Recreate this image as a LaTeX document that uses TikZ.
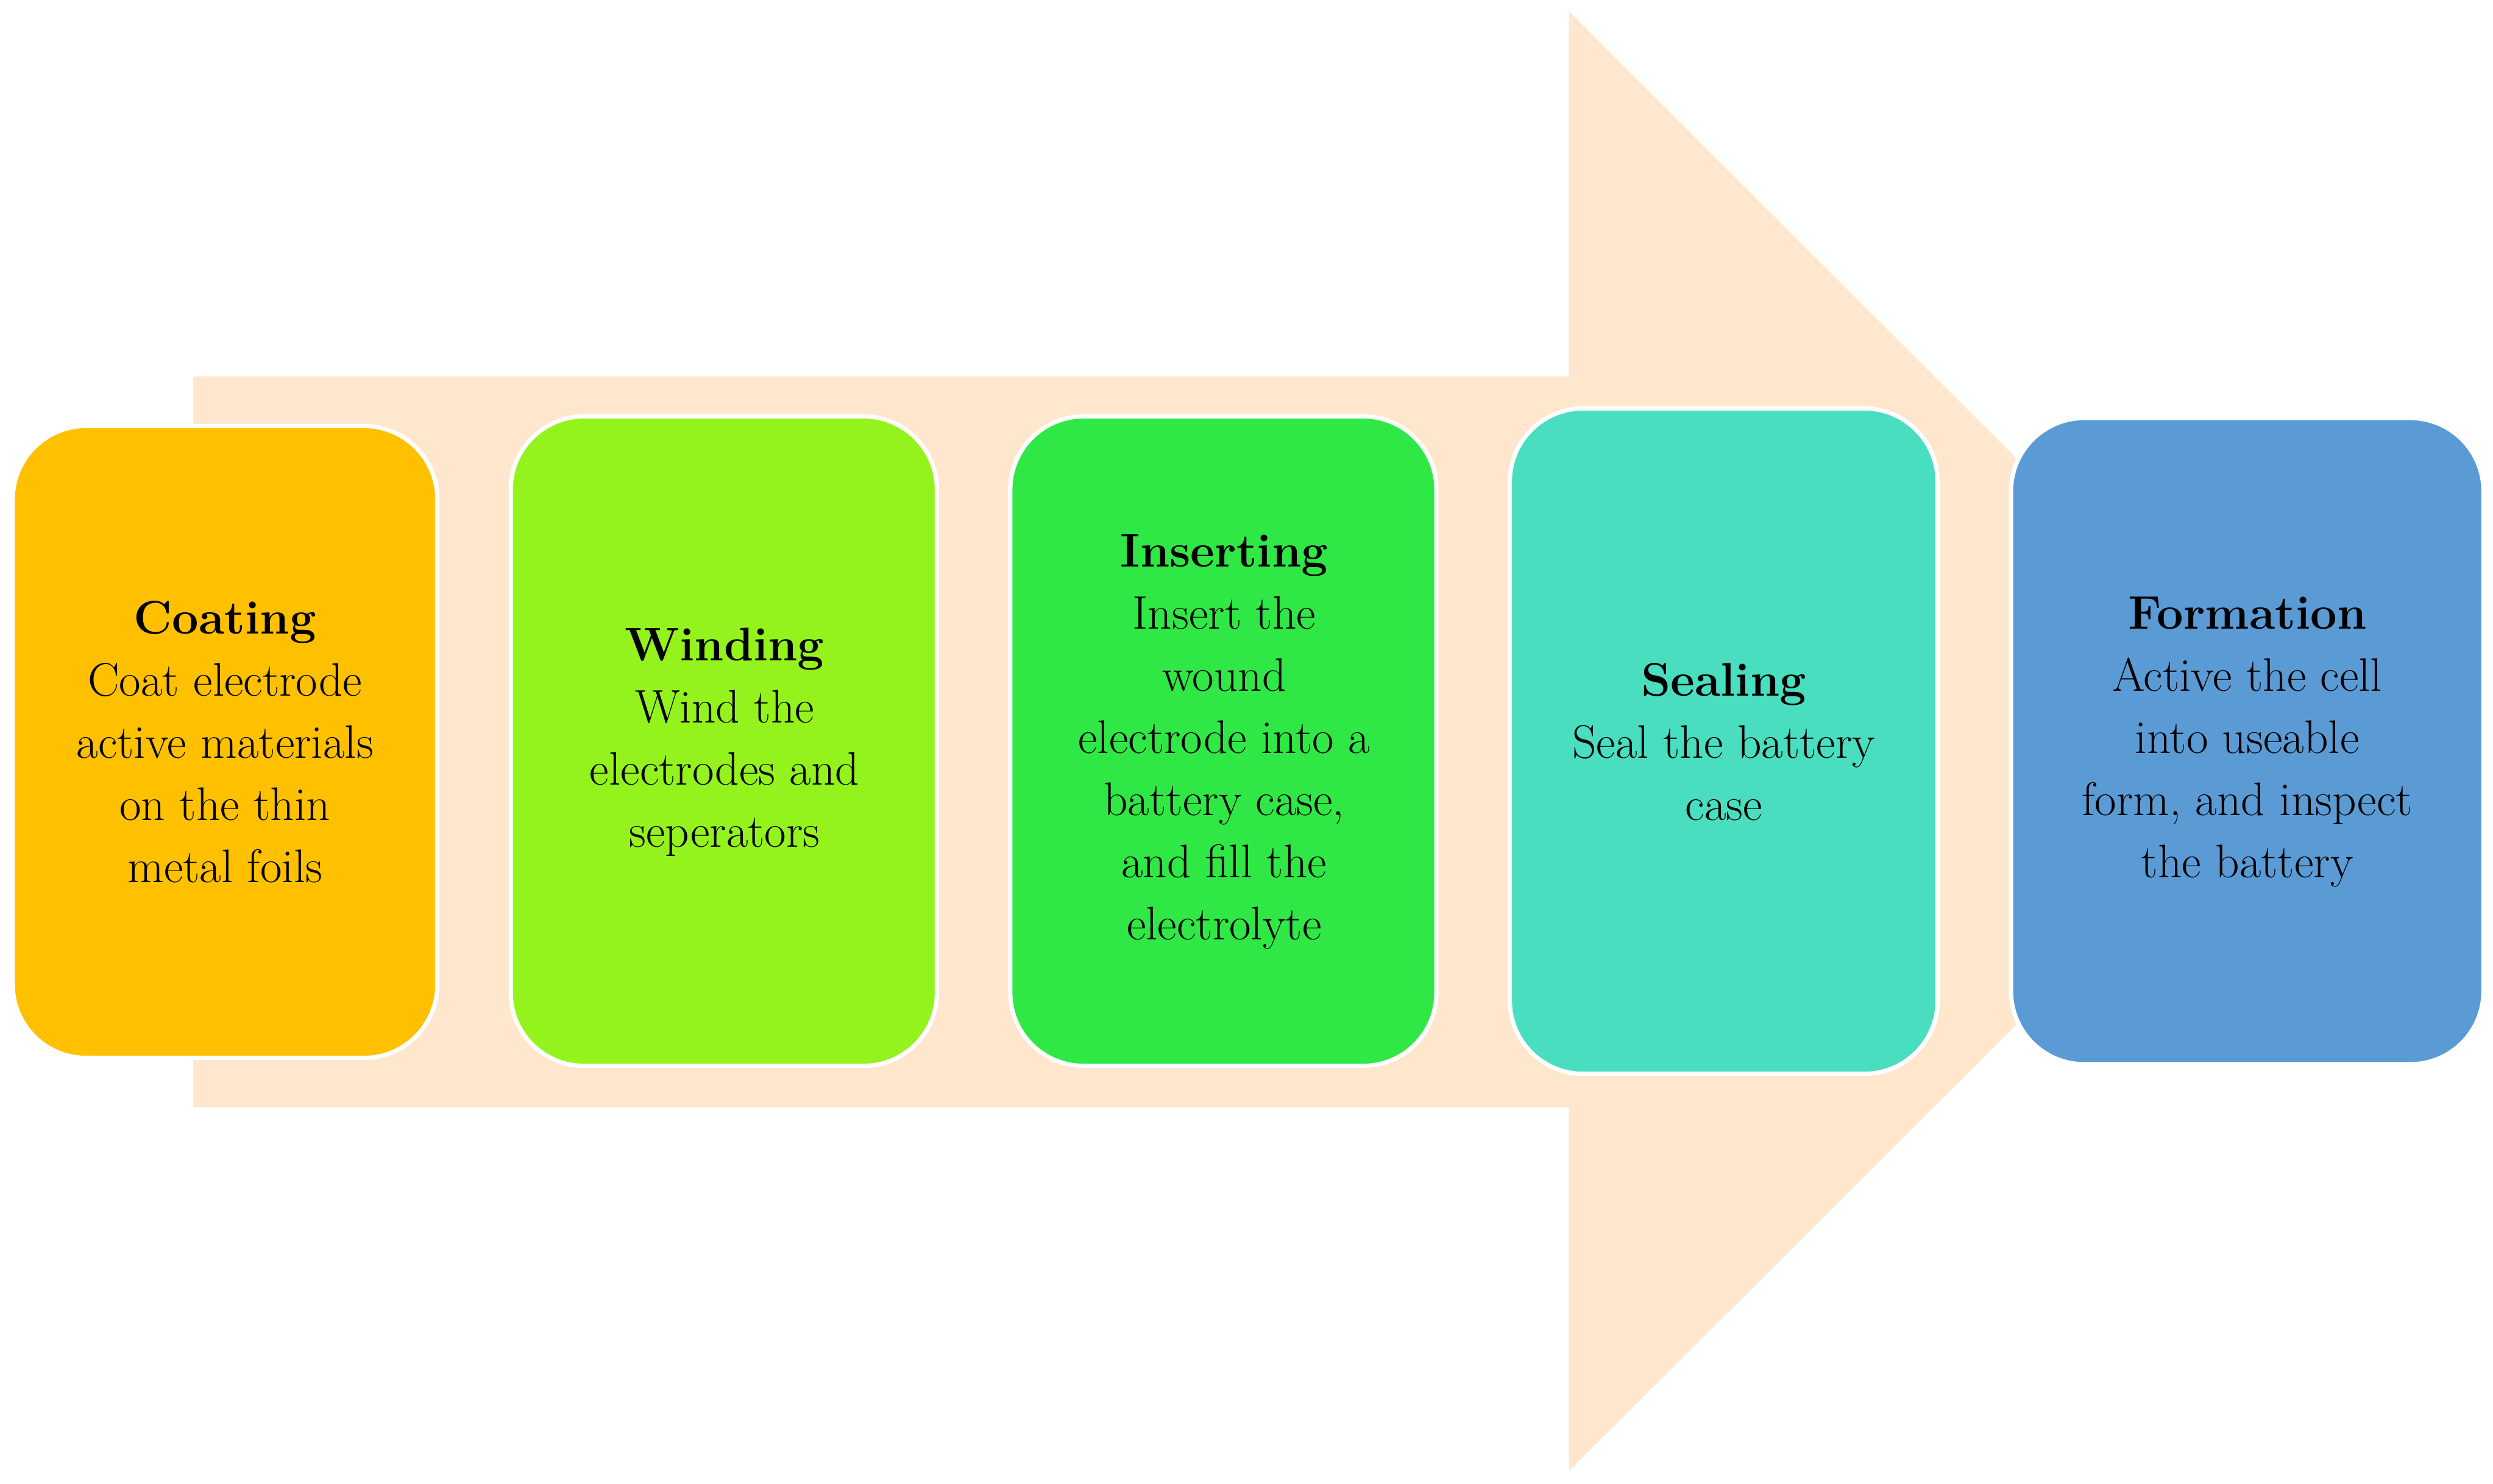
\documentclass[tikz,border=0pt]{standalone}
\begin{document}
\begin{tikzpicture}[x=0.02619cm,y=-0.02619cm,
  box/.style={draw=white,line width=2pt,rounded corners=1.2cm,inner sep=0pt},
  lbl/.style={align=center,font=\fontsize{22}{29}\selectfont,text=black}]
\useasboundingbox (0,0) rectangle (1562,930);
\fill[fill={rgb,255:red,255;green,231;blue,206}] (121,236) -- (983,236) -- (983,7) -- (1441,465) -- (983,922) -- (983,694) -- (121,694) -- cycle;
\definecolor{c1}{HTML}{FFC000}
\definecolor{c2}{HTML}{94F31C}
\definecolor{c3}{HTML}{2FE845}
\definecolor{c4}{HTML}{48DEBF}
\definecolor{c5}{HTML}{5B9BD5}
\filldraw[box,fill=c1] (8,267) rectangle (274,663);
\filldraw[box,fill=c2] (320,261) rectangle (587,668);
\filldraw[box,fill=c3] (633,261) rectangle (900,668);
\filldraw[box,fill=c4] (946,256) rectangle (1214,673);
\filldraw[box,fill=c5] (1260,262) rectangle (1556,667);
\node[lbl] (t1) at (141,465) {\textbf{Coating}\\Coat electrode\\active materials\\on the thin\\metal foils};
\node[lbl] (t2) at (454,465) {\textbf{Winding}\\Wind the\\electrodes and\\seperators};
\node[lbl] (t3) at (767,465) {\textbf{Inserting}\\Insert the\\wound\\electrode into a\\battery case,\\and fill the\\electrolyte};
\node[lbl] (t4) at (1080,465) {\textbf{Sealing}\\Seal the battery\\case};
\node[lbl] (t5) at (1408,465) {\textbf{Formation}\\Active the cell\\into useable\\form, and inspect\\the battery};
\end{tikzpicture}
\end{document}
